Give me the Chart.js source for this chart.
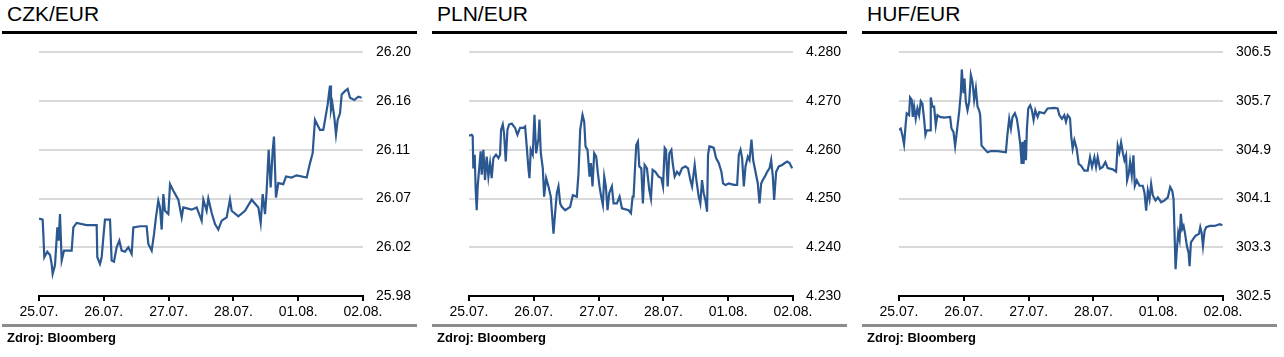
<!DOCTYPE html>
<html><head><meta charset="utf-8">
<script src="https://cdn.jsdelivr.net/npm/chart.js@4"></script>
<style>
body{margin:0;background:#fff;width:1284px;height:357px;overflow:hidden;position:relative;font-family:Arial,"Liberation Sans",sans-serif}
.panel{position:absolute;top:0;width:420px;height:357px}
.title{position:absolute;left:7px;top:3px;font-size:21px;line-height:21px;color:#000;white-space:nowrap}
.topbar{position:absolute;left:2px;top:31px;width:415px;height:3px;background:#000}
.botbar{position:absolute;left:2px;top:324px;width:415px;height:3px;background:#8c8c8c}
.src{position:absolute;left:7px;top:331px;font-size:13px;line-height:13px;font-weight:bold;color:#000;white-space:nowrap}
canvas{position:absolute;left:0;top:31px}
</style></head>
<body>
<div class="panel" style="left:0px"><div class="title">CZK/EUR</div><div class="topbar"></div><canvas id="c1" width="420" height="299"></canvas><div class="botbar"></div><div class="src">Zdroj: Bloomberg</div></div>
<div class="panel" style="left:430px"><div class="title">PLN/EUR</div><div class="topbar"></div><canvas id="c2" width="420" height="299"></canvas><div class="botbar"></div><div class="src">Zdroj: Bloomberg</div></div>
<div class="panel" style="left:860px"><div class="title">HUF/EUR</div><div class="topbar"></div><canvas id="c3" width="420" height="299"></canvas><div class="botbar"></div><div class="src">Zdroj: Bloomberg</div></div>
<script>
const xLabels = ['25.07.','26.07.','27.07.','28.07.','01.08.','02.08.'];

const czkTicks = [25.98, 26.024, 26.068, 26.112, 26.156, 26.20];
const plnTicks = [4.230, 4.240, 4.250, 4.260, 4.270, 4.280];
const hufTicks = [302.5, 303.3, 304.1, 304.9, 305.7, 306.5];

// time in trading days since 25.07. (0..5)
const czkT = [0.00,0.056,0.067,0.082,0.128,0.170,0.195,0.211,0.247,0.283,0.303,0.324,0.350,0.386,0.504,0.530,0.581,0.735,0.890,0.900,0.941,0.967,0.993,1.018,1.096,1.121,1.157,1.198,1.240,1.276,1.327,1.379,1.430,1.456,1.559,1.661,1.687,1.739,1.775,1.805,1.841,1.867,1.893,1.919,1.944,1.996,2.022,2.073,2.150,2.202,2.227,2.356,2.433,2.510,2.536,2.587,2.613,2.665,2.716,2.767,2.819,2.896,2.947,2.973,3.076,3.179,3.282,3.385,3.421,3.452,3.488,3.513,3.544,3.575,3.606,3.626,3.657,3.693,3.770,3.812,3.899,3.976,4.131,4.182,4.223,4.259,4.336,4.387,4.414,4.455,4.475,4.491,4.506,4.527,4.558,4.583,4.609,4.645,4.671,4.722,4.763,4.799,4.866,4.928,4.979];
const czkV = [26.050,26.049,26.036,26.015,26.020,26.017,26.009,26.000,26.008,26.042,26.030,26.054,26.012,26.021,26.021,26.042,26.046,26.044,26.044,26.015,26.009,26.015,26.033,26.049,26.049,26.012,26.011,26.024,26.030,26.021,26.020,26.024,26.018,26.042,26.043,26.043,26.027,26.021,26.036,26.051,26.066,26.060,26.040,26.072,26.057,26.054,26.081,26.075,26.067,26.051,26.060,26.058,26.060,26.048,26.067,26.057,26.068,26.055,26.045,26.040,26.048,26.051,26.067,26.057,26.052,26.057,26.067,26.060,26.046,26.072,26.054,26.075,26.112,26.078,26.111,26.124,26.069,26.082,26.081,26.088,26.087,26.089,26.087,26.100,26.109,26.139,26.130,26.130,26.139,26.153,26.163,26.170,26.148,26.154,26.141,26.126,26.139,26.145,26.162,26.165,26.167,26.159,26.157,26.160,26.159];

const plnT = [0.00,0.041,0.057,0.067,0.088,0.103,0.119,0.134,0.160,0.180,0.196,0.222,0.247,0.273,0.299,0.325,0.350,0.376,0.417,0.454,0.479,0.495,0.521,0.541,0.567,0.593,0.618,0.660,0.711,0.747,0.788,0.840,0.866,0.891,0.917,0.933,0.953,0.984,1.010,1.036,1.072,1.087,1.108,1.139,1.159,1.190,1.226,1.262,1.283,1.304,1.329,1.355,1.381,1.407,1.432,1.484,1.561,1.602,1.664,1.690,1.716,1.752,1.778,1.798,1.829,1.860,1.881,1.906,1.932,1.963,1.989,2.014,2.040,2.066,2.087,2.112,2.138,2.164,2.205,2.231,2.282,2.324,2.360,2.463,2.499,2.525,2.540,2.566,2.581,2.607,2.628,2.659,2.684,2.710,2.746,2.782,2.808,2.834,2.875,2.927,2.968,2.994,3.020,3.040,3.066,3.092,3.123,3.143,3.174,3.210,3.246,3.287,3.339,3.380,3.416,3.442,3.483,3.509,3.545,3.570,3.596,3.622,3.648,3.674,3.689,3.710,3.741,3.777,3.813,3.854,3.895,3.921,3.957,4.009,4.086,4.138,4.164,4.190,4.215,4.241,4.267,4.303,4.329,4.359,4.385,4.421,4.457,4.483,4.509,4.534,4.565,4.601,4.637,4.663,4.689,4.709,4.740,4.781,4.833,4.874,4.910,4.946,4.987];
const plnV = [4.2629,4.2631,4.2628,4.2562,4.2590,4.2518,4.2476,4.2525,4.2566,4.2597,4.2549,4.2600,4.2538,4.2586,4.2545,4.2573,4.2542,4.2583,4.2590,4.2583,4.2590,4.2641,4.2652,4.2634,4.2576,4.2641,4.2652,4.2654,4.2645,4.2631,4.2645,4.2645,4.2648,4.2607,4.2562,4.2542,4.2600,4.2590,4.2672,4.2593,4.2624,4.2662,4.2593,4.2562,4.2504,4.2542,4.2525,4.2504,4.2466,4.2428,4.2470,4.2511,4.2525,4.2490,4.2483,4.2476,4.2483,4.2507,4.2504,4.2552,4.2641,4.2672,4.2658,4.2607,4.2600,4.2545,4.2573,4.2525,4.2593,4.2586,4.2552,4.2525,4.2504,4.2487,4.2545,4.2525,4.2476,4.2511,4.2525,4.2490,4.2490,4.2504,4.2480,4.2476,4.2470,4.2504,4.2504,4.2573,4.2610,4.2617,4.2566,4.2562,4.2490,4.2569,4.2562,4.2518,4.2500,4.2559,4.2555,4.2545,4.2542,4.2525,4.2604,4.2600,4.2525,4.2593,4.2600,4.2573,4.2545,4.2555,4.2549,4.2562,4.2566,4.2562,4.2538,4.2525,4.2569,4.2538,4.2504,4.2490,4.2538,4.2511,4.2497,4.2473,4.2590,4.2607,4.2606,4.2604,4.2583,4.2573,4.2555,4.2531,4.2528,4.2531,4.2528,4.2528,4.2590,4.2600,4.2583,4.2525,4.2566,4.2586,4.2579,4.2621,4.2579,4.2555,4.2531,4.2490,4.2531,4.2538,4.2545,4.2555,4.2562,4.2579,4.2545,4.2497,4.2555,4.2566,4.2569,4.2573,4.2576,4.2573,4.2562];

const hufT = [0.00,0.027,0.052,0.078,0.104,0.119,0.155,0.171,0.197,0.212,0.233,0.258,0.284,0.310,0.336,0.361,0.387,0.408,0.428,0.480,0.490,0.516,0.542,0.568,0.593,0.634,0.696,0.789,0.810,0.841,0.866,0.892,0.928,0.954,0.969,0.995,1.011,1.031,1.057,1.083,1.109,1.134,1.160,1.186,1.212,1.237,1.253,1.273,1.315,1.366,1.418,1.521,1.649,1.675,1.701,1.727,1.752,1.788,1.819,1.845,1.871,1.892,1.907,1.922,1.943,1.959,1.974,1.995,2.025,2.051,2.077,2.103,2.139,2.165,2.242,2.293,2.396,2.448,2.474,2.515,2.551,2.577,2.603,2.639,2.659,2.680,2.706,2.742,2.773,2.809,2.860,2.912,2.948,2.979,3.015,3.041,3.066,3.102,3.144,3.185,3.221,3.298,3.350,3.375,3.401,3.427,3.453,3.479,3.504,3.520,3.546,3.566,3.592,3.618,3.639,3.669,3.711,3.762,3.788,3.814,3.840,3.866,3.891,3.917,3.959,3.995,4.046,4.098,4.149,4.185,4.216,4.237,4.252,4.268,4.288,4.309,4.330,4.350,4.371,4.392,4.412,4.443,4.469,4.484,4.505,4.536,4.577,4.629,4.649,4.670,4.691,4.716,4.742,4.794,4.871,4.949,4.990];
const hufV = [305.23,305.25,305.14,304.99,305.33,305.50,305.47,305.76,305.72,305.44,305.61,305.41,305.58,305.47,305.70,305.66,305.41,305.15,305.22,305.22,305.76,305.61,305.61,305.30,305.47,305.44,305.43,305.44,305.25,305.19,304.96,305.19,305.52,305.83,306.22,305.83,306.07,305.69,305.55,305.69,306.13,306.02,305.72,305.91,305.61,305.55,305.47,304.97,304.92,304.86,304.88,304.88,304.86,305.17,305.41,305.25,305.44,305.50,305.41,305.22,305.00,304.67,305.03,304.67,305.06,304.73,305.25,305.58,305.63,305.55,305.39,305.55,305.44,305.52,305.50,305.58,305.59,305.58,305.47,305.41,305.47,305.36,305.47,305.42,305.11,304.92,305.06,304.92,304.67,304.64,304.56,304.56,304.78,304.62,304.78,304.62,304.78,304.59,304.62,304.70,304.60,304.58,304.54,304.97,304.86,305.02,304.86,304.73,304.81,304.40,304.51,304.70,304.48,304.81,304.31,304.40,304.31,304.31,304.20,303.90,304.23,304.09,304.34,304.15,304.07,304.12,304.04,304.07,304.12,304.29,304.23,304.09,303.54,302.94,303.27,303.54,303.43,303.85,303.60,303.65,303.54,303.32,303.21,302.99,303.38,303.43,303.49,303.52,303.63,303.54,303.32,303.57,303.63,303.65,303.65,303.68,303.66];

const LINE = '#2b5890';
const FONT = 'Arial, "Liberation Sans", sans-serif';
Chart.defaults.font.family = FONT;

function build(id, times, values, yTicks, dec){
  const pts = times.map((t,i)=>({x:t, y:values[i]}));
  new Chart(document.getElementById(id), {
    type:'line',
    data:{datasets:[{data:pts, borderColor:LINE, borderWidth:2.2, pointRadius:0, tension:0, fill:false}]},
    options:{
      responsive:false, animation:false,
      layout:{padding:{left:39, top:11, right:0, bottom:0}},
      plugins:{legend:{display:false}, tooltip:{enabled:false}},
      scales:{
        x:{
          type:'linear', min:0, max:xLabels.length-1,
          afterBuildTicks:s=>{ s.ticks = xLabels.map((_,i)=>({value:i})); },
          ticks:{callback:v=>xLabels[v], color:'#000', font:{size:14}, padding:3, maxRotation:0, autoSkip:false},
          grid:{drawOnChartArea:false, drawTicks:true, tickLength:5, color:'#000', lineWidth:2},
          border:{display:true, color:'#000', width:2},
          afterFit:s=>{ s.height = 34; }
        },
        y:{
          position:'right', min:yTicks[0], max:yTicks[yTicks.length-1],
          afterBuildTicks:s=>{ s.ticks = yTicks.map(v=>({value:v})); },
          ticks:{callback:v=>Number(v).toFixed(dec), color:'#000', font:{size:14}, padding:13},
          grid:{drawTicks:false, color:c=>c.index===0?'rgba(0,0,0,0)':'#d9d9d9', lineWidth:2},
          border:{display:false},
          afterFit:s=>{ s.width = 57; }
        }
      }
    }
  });
}
build('c1', czkT, czkV, czkTicks, 2);
build('c2', plnT, plnV, plnTicks, 3);
build('c3', hufT, hufV, hufTicks, 1);
</script>
</body></html>
